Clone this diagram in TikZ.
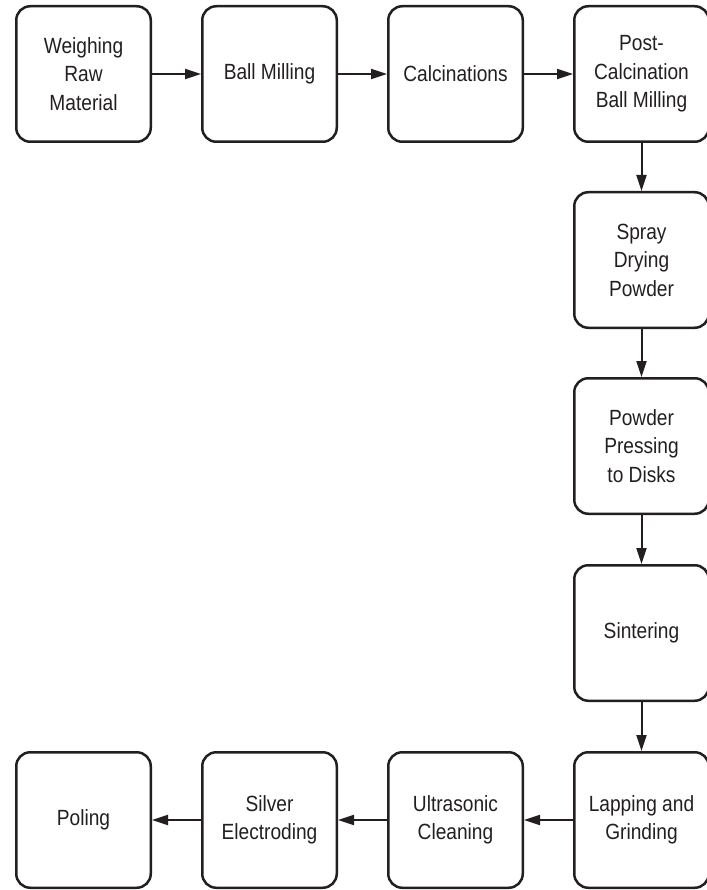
\documentclass[tikz,border=0pt]{standalone}
\usepackage{fontspec}
\setmainfont{Liberation Sans}[FakeStretch=0.87]
\usetikzlibrary{arrows.meta}
\definecolor{ink}{HTML}{231F20}
\begin{document}
\begin{tikzpicture}[x=1pt,y=-1pt,
  procbox/.style={draw=ink, line width=2.5pt, rounded corners=14pt,
    minimum width=134.5pt, minimum height=135.5pt, inner sep=0pt,
    align=center, text=ink,
    font=\fontsize{22pt}{28.5pt}\selectfont},
  flow/.style={draw=ink, line width=2pt,
    -{Triangle[length=16pt,width=10pt]}}]
\useasboundingbox (0,0) rectangle (706,890);
\node[procbox] (w) at (83.5,74) {Weighing\\Raw\\Material};
\node[procbox] (b) at (269.5,74) {Ball Milling};
\node[procbox] (c) at (455.5,74) {Calcinations};
\node[procbox] (p) at (641.5,74) {Post-\\Calcination\\Ball Milling};
\node[procbox] (s) at (641.5,260) {Spray\\Drying\\Powder};
\node[procbox] (d) at (641.5,446) {Powder\\Pressing\\to Disks};
\node[procbox] (t) at (641.5,633) {Sintering};
\node[procbox] (l) at (641.5,820) {Lapping and\\Grinding};
\node[procbox] (u) at (455.5,820) {Ultrasonic\\Cleaning};
\node[procbox] (e) at (269.5,820) {Silver\\Electroding};
\node[procbox] (o) at (83.5,820) {Poling};
\draw[flow] (w) -- (b);
\draw[flow] (b) -- (c);
\draw[flow] (c) -- (p);
\draw[flow] (p) -- (s);
\draw[flow] (s) -- (d);
\draw[flow] (d) -- (t);
\draw[flow] (t) -- (l);
\draw[flow] (l) -- (u);
\draw[flow] (u) -- (e);
\draw[flow] (e) -- (o);
\end{tikzpicture}
\end{document}
